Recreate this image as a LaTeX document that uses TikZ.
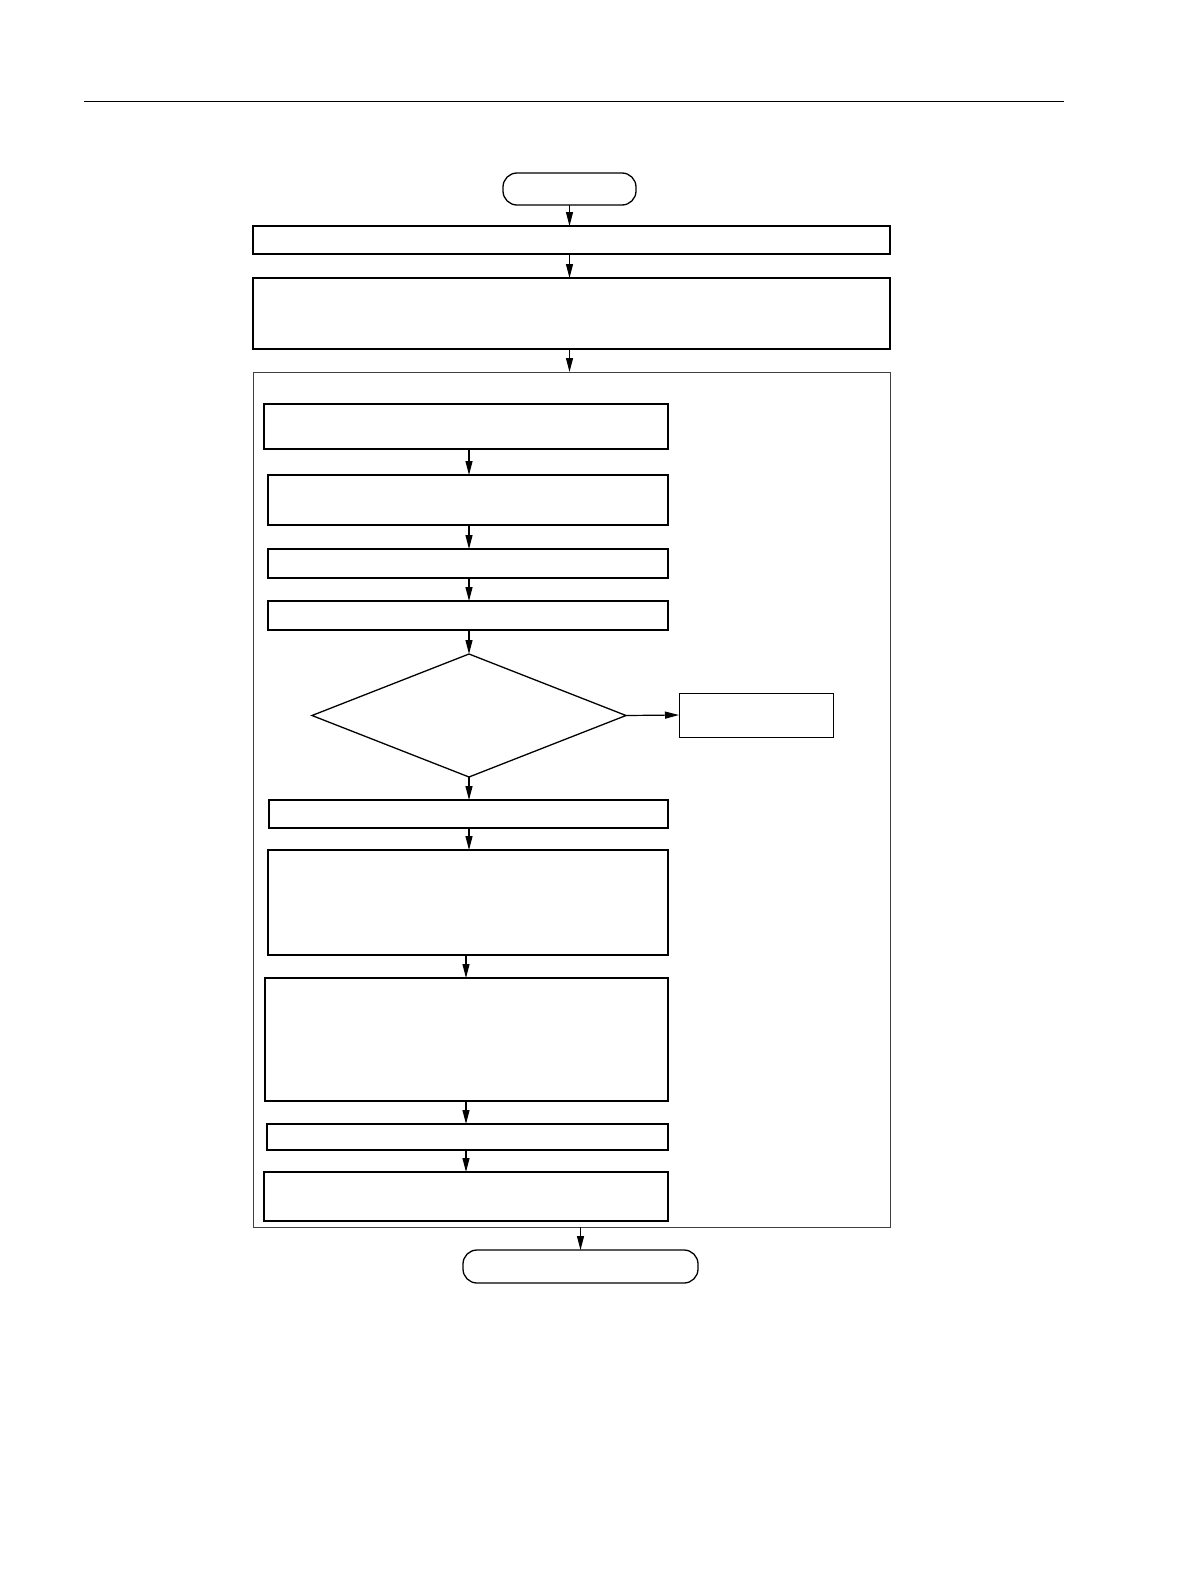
\documentclass[tikz,border=0pt]{standalone}
\usetikzlibrary{arrows.meta,shapes.geometric}
\begin{document}
\begin{tikzpicture}[x=1pt,y=-1pt,
  boxst/.style={draw,line width=1.3pt,rectangle,inner sep=0pt,outer sep=0pt},
  termst/.style={draw,line width=1.3pt,rectangle,rounded corners=14pt,inner sep=0pt,outer sep=0pt},
  contst/.style={draw=black!75,line width=1pt,rectangle,inner sep=0pt,outer sep=0pt},
  decst/.style={draw,line width=1.3pt,diamond,inner sep=0pt,outer sep=0pt},
  arr/.style={line width=1.2pt,-{Triangle[length=14pt,width=7pt]}}]
\useasboundingbox (0,0) rectangle (1191,1587);
\fill[white] (0,0) rectangle (1191,1587);
\coordinate (rl) at (84,101);
\coordinate (rr) at (1064,101);
\draw[line width=0.8pt] (rl) -- (rr);
% top part
\node[termst,minimum width=133,minimum height=32] (st) at (569.5,189) {};
\node[boxst,minimum width=637,minimum height=28] (b1) at (571.5,240) {};
\node[boxst,minimum width=637,minimum height=71] (b2) at (571.5,313.5) {};
\node[contst,minimum width=637,minimum height=855] (ct) at (571.5,799.5) {};
% inner
\node[boxst,minimum width=404,minimum height=45] (b3) at (466,426.5) {};
\node[boxst,minimum width=400,minimum height=50] (b4) at (468,500) {};
\node[boxst,minimum width=400,minimum height=29] (b5) at (468,563.5) {};
\node[boxst,minimum width=400,minimum height=29] (b6) at (468,615.5) {};
\node[decst,minimum width=314,minimum height=123] (d) at (469,715.5) {};
\node[contst,draw=black,minimum width=154,minimum height=44] (sb) at (756,715) {};
\node[boxst,minimum width=399,minimum height=28] (b7) at (468.5,814) {};
\node[boxst,minimum width=400,minimum height=105] (b8) at (468,902.5) {};
\node[boxst,minimum width=403,minimum height=123] (b9) at (466.5,1039.5) {};
\node[boxst,minimum width=401,minimum height=26] (b10) at (467.5,1137) {};
\node[boxst,minimum width=404,minimum height=49] (b11) at (466,1196.5) {};
\node[termst,minimum width=235,minimum height=33] (en) at (580.5,1266.5) {};
\coordinate (ax) at (466,0);
% connectors
\draw[arr] (st.south) -- (b1.north -| st.south);
\draw[arr] (b1.south -| st.south) -- (b2.north -| st.south);
\draw[arr] (b2.south -| st.south) -- (ct.north -| st.south);
\draw[arr] (b3.south -| d.north) -- (b4.north -| d.north);
\draw[arr] (b4.south -| d.north) -- (b5.north -| d.north);
\draw[arr] (b5.south -| d.north) -- (b6.north -| d.north);
\draw[arr] (b6.south -| d.north) -- (d.north);
\draw[arr] (d.east) -- (sb.west);
\draw[arr] (d.south) -- (b7.north -| d.south);
\draw[arr] (b7.south -| d.south) -- (b8.north -| d.south);
\draw[arr] (b8.south -| ax) -- (b9.north -| ax);
\draw[arr] (b9.south -| ax) -- (b10.north -| ax);
\draw[arr] (b10.south -| ax) -- (b11.north -| ax);
\draw[arr] (ct.south -| en.north) -- (en.north);
\end{tikzpicture}
\end{document}
